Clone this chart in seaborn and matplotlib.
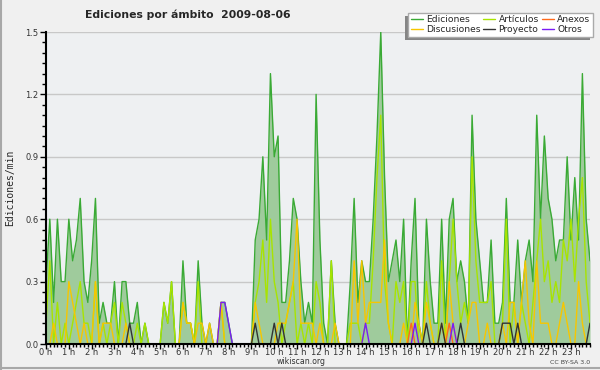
import numpy as np
import pandas as pd
import matplotlib
matplotlib.use("Agg")
import matplotlib.pyplot as plt
import seaborn as sns
from matplotlib.ticker import MultipleLocator
from matplotlib.patches import Rectangle
from matplotlib.lines import Line2D

# edits per minute, one value per 10-minute slot (0h00 .. 23h50)
ediciones = [
    0.3, 0.6, 0.2, 0.6, 0.3, 0.3, 0.6, 0.4, 0.5, 0.7, 0.3, 0.2,
    0.4, 0.7, 0.1, 0.2, 0.1, 0.1, 0.3, 0.0, 0.3, 0.3, 0.1, 0.1,
    0.2, 0.0, 0.1, 0.0, 0.0, 0.0, 0.0, 0.2, 0.1, 0.3, 0.0, 0.0,
    0.4, 0.1, 0.1, 0.0, 0.4, 0.1, 0.0, 0.1, 0.0, 0.0, 0.2, 0.2,
    0.1, 0.0, 0.0, 0.0, 0.0, 0.0, 0.0, 0.5, 0.6, 0.9, 0.5, 1.3,
    0.9, 1.0, 0.2, 0.2, 0.4, 0.7, 0.6, 0.3, 0.1, 0.2, 0.1, 1.2,
    0.5, 0.1, 0.0, 0.4, 0.1, 0.0, 0.0, 0.0, 0.3, 0.7, 0.2, 0.4,
    0.3, 0.3, 0.6, 1.0, 1.5, 0.8, 0.3, 0.4, 0.5, 0.3, 0.6, 0.0,
    0.4, 0.7, 0.1, 0.0, 0.6, 0.3, 0.1, 0.1, 0.6, 0.1, 0.6, 0.7,
    0.3, 0.4, 0.3, 0.1, 1.1, 0.6, 0.4, 0.2, 0.2, 0.5, 0.1, 0.1,
    0.2, 0.7, 0.2, 0.2, 0.5, 0.2, 0.4, 0.5, 0.3, 1.1, 0.6, 1.0,
    0.7, 0.6, 0.4, 0.5, 0.5, 0.9, 0.5, 0.8, 0.5, 1.3, 0.6, 0.4,
]
articulos = [
    0.1, 0.4, 0.0, 0.2, 0.0, 0.1, 0.0, 0.1, 0.2, 0.3, 0.1, 0.1,
    0.0, 0.3, 0.0, 0.1, 0.0, 0.1, 0.2, 0.0, 0.2, 0.1, 0.0, 0.0,
    0.1, 0.0, 0.1, 0.0, 0.0, 0.0, 0.0, 0.2, 0.1, 0.3, 0.0, 0.0,
    0.2, 0.1, 0.1, 0.0, 0.3, 0.0, 0.0, 0.0, 0.0, 0.0, 0.2, 0.0,
    0.0, 0.0, 0.0, 0.0, 0.0, 0.0, 0.0, 0.2, 0.3, 0.5, 0.2, 0.6,
    0.3, 0.2, 0.0, 0.1, 0.2, 0.3, 0.0, 0.1, 0.0, 0.1, 0.0, 0.3,
    0.2, 0.0, 0.0, 0.4, 0.0, 0.0, 0.0, 0.0, 0.1, 0.1, 0.1, 0.0,
    0.1, 0.1, 0.4, 0.8, 1.1, 0.3, 0.1, 0.0, 0.3, 0.2, 0.3, 0.0,
    0.3, 0.3, 0.0, 0.0, 0.3, 0.1, 0.0, 0.0, 0.4, 0.0, 0.3, 0.6,
    0.3, 0.1, 0.2, 0.1, 0.9, 0.4, 0.2, 0.2, 0.2, 0.3, 0.0, 0.0,
    0.1, 0.6, 0.0, 0.2, 0.0, 0.2, 0.1, 0.0, 0.2, 0.4, 0.6, 0.3,
    0.4, 0.2, 0.3, 0.2, 0.5, 0.4, 0.6, 0.3, 0.6, 0.8, 0.3, 0.1,
]
discusiones = [
    0.0, 0.0, 0.1, 0.0, 0.0, 0.0, 0.3, 0.2, 0.1, 0.0, 0.1, 0.0,
    0.0, 0.3, 0.0, 0.1, 0.1, 0.1, 0.0, 0.0, 0.0, 0.1, 0.0, 0.0,
    0.0, 0.0, 0.0, 0.0, 0.0, 0.0, 0.0, 0.0, 0.0, 0.0, 0.0, 0.0,
    0.2, 0.1, 0.1, 0.0, 0.1, 0.1, 0.0, 0.1, 0.0, 0.0, 0.2, 0.0,
    0.0, 0.0, 0.0, 0.0, 0.0, 0.0, 0.0, 0.2, 0.1, 0.0, 0.0, 0.0,
    0.0, 0.1, 0.1, 0.1, 0.2, 0.3, 0.6, 0.1, 0.1, 0.1, 0.1, 0.0,
    0.1, 0.0, 0.0, 0.0, 0.1, 0.0, 0.0, 0.0, 0.0, 0.4, 0.1, 0.4,
    0.1, 0.2, 0.2, 0.2, 0.2, 0.5, 0.1, 0.0, 0.0, 0.0, 0.1, 0.0,
    0.0, 0.2, 0.1, 0.0, 0.2, 0.1, 0.0, 0.0, 0.1, 0.0, 0.3, 0.1,
    0.0, 0.0, 0.0, 0.1, 0.2, 0.2, 0.0, 0.0, 0.1, 0.0, 0.0, 0.0,
    0.1, 0.0, 0.2, 0.2, 0.0, 0.2, 0.4, 0.1, 0.0, 0.4, 0.1, 0.1,
    0.1, 0.0, 0.0, 0.1, 0.2, 0.1, 0.0, 0.0, 0.3, 0.1, 0.0, 0.0,
]
# sparse series: slot index -> edits/min
anexos = {96: 0.1, 106: 0.1}
proyecto = {22: 0.1, 55: 0.1, 60: 0.1, 62: 0.1, 100: 0.1, 104: 0.1, 109: 0.1,
            120: 0.1, 121: 0.1, 122: 0.1, 124: 0.1, 143: 0.1}
otros = {46: 0.2, 47: 0.2, 48: 0.1, 84: 0.1, 97: 0.1, 107: 0.1}

hour_labels = [f"{h} h" for h in range(24)]

colors = {
    "Ediciones": "#3aaa35",
    "Artículos": "#a8e400",
    "Discusiones": "#f7c600",
    "Anexos": "#ff6a1a",
    "Proyecto": "#333333",
    "Otros": "#7a1cf5",
}
fill_color = "#9fcb9c"

slots = np.arange(len(ediciones))
df = pd.DataFrame({"slot": slots, "Ediciones": ediciones,
                   "Artículos": articulos, "Discusiones": discusiones})
for name, pts in [("Anexos", anexos), ("Proyecto", proyecto), ("Otros", otros)]:
    df[name] = [pts.get(s, 0.0) for s in slots]
long = df.melt(id_vars="slot", var_name="ambito", value_name="valor")

sns.set_style("ticks")
plt.rcParams["font.family"] = ["DejaVu Sans"]

fig = plt.figure(figsize=(6, 3.7), dpi=100, facecolor="#f0f0f0")
ax = fig.add_axes([46 / 600, 26 / 370, 544 / 600, 312 / 370])
ax.set_facecolor("#eef0f2")

ax.fill_between(df["slot"], 0, df["Ediciones"], color=fill_color, lw=0, zorder=1.5)
order = ["Ediciones", "Artículos", "Discusiones", "Anexos", "Proyecto", "Otros"]
sns.lineplot(data=long, x="slot", y="valor", hue="ambito", hue_order=order,
             palette=colors, linewidth=1.0, legend=False, ax=ax, zorder=2)

ax.set_xlim(0, len(slots) - 1)
ax.set_ylim(0, 1.5)
ax.set_xlabel("")
ax.set_ylabel("")

ax.set_xticks(range(0, len(slots), 6))
ax.set_xticklabels(hour_labels, fontsize=6, color="#333333")
ax.xaxis.set_minor_locator(MultipleLocator(1))
yt = np.round(np.arange(0, 1.51, 0.3), 1)
ax.set_yticks(yt)
ax.set_yticklabels([f"{v:.1f}" for v in yt], fontsize=6, color="#333333")
ax.yaxis.set_minor_locator(MultipleLocator(0.05))
ax.tick_params(axis="y", which="major", length=4, width=1, pad=1.5, color="black")
ax.tick_params(axis="y", which="minor", length=3, width=1, color="black")
ax.tick_params(axis="x", which="major", length=3.5, width=1, pad=-0.5, color="black")
ax.tick_params(axis="x", which="minor", length=2.5, width=1, color="black")

ax.yaxis.grid(True, color="#c8c8c8", lw=1)
ax.set_axisbelow(True)
for s in ["top", "right"]:
    ax.spines[s].set_visible(False)
for s in ["left", "bottom"]:
    ax.spines[s].set_linewidth(1.5)
    ax.spines[s].set_color("black")

fig.text(85 / 600, 1 - 15 / 370, "Ediciones por ámbito  2009-08-06",
         fontsize=7.8, fontweight="bold", ha="left", va="center")
fig.text(10 / 600, 1 - 188 / 370, "Ediciones/min", rotation=90,
         family="DejaVu Sans Mono", fontsize=7, ha="center", va="center")
fig.text(301 / 600, 1 - 362 / 370, "wikiscan.org", fontsize=5.6,
         color="#333333", ha="center", va="center")
fig.text(590 / 600, 1 - 362 / 370, "CC BY-SA 3.0", fontsize=4.5,
         color="#444444", ha="right", va="center")

leg_order = ["Ediciones", "Discusiones", "Artículos", "Proyecto", "Anexos", "Otros"]
handles = [Line2D([0], [0], color=colors[n], lw=1) for n in leg_order]
leg = fig.legend(handles, leg_order, ncol=3, loc="upper right",
                 bbox_to_anchor=(593 / 600, 1 - 12.5 / 370),
                 fontsize=6.6, frameon=True, fancybox=False,
                 edgecolor="#aaaaaa", facecolor="white", framealpha=1,
                 handlelength=1.3, handletextpad=0.35, columnspacing=0.35,
                 labelspacing=0.1, borderpad=0.3, borderaxespad=0)
leg.set_zorder(5)
fig.canvas.draw()
bb = leg.get_window_extent()
fig.patches.append(Rectangle((bb.x0 - 3, bb.y0 - 3), bb.width, bb.height,
                             transform=None, facecolor="#858585",
                             edgecolor="none", zorder=4))

# frame line at the left and bottom edge of the image
fig.add_artist(Line2D([0.6 / 600, 0.6 / 600], [0, 1], color="#a8a8a8", lw=1.5))
fig.add_artist(Line2D([0, 1], [2.5 / 370, 2.5 / 370], color="#a8a8a8", lw=1.5))

fig.savefig("out.png", dpi=100, facecolor=fig.get_facecolor())
